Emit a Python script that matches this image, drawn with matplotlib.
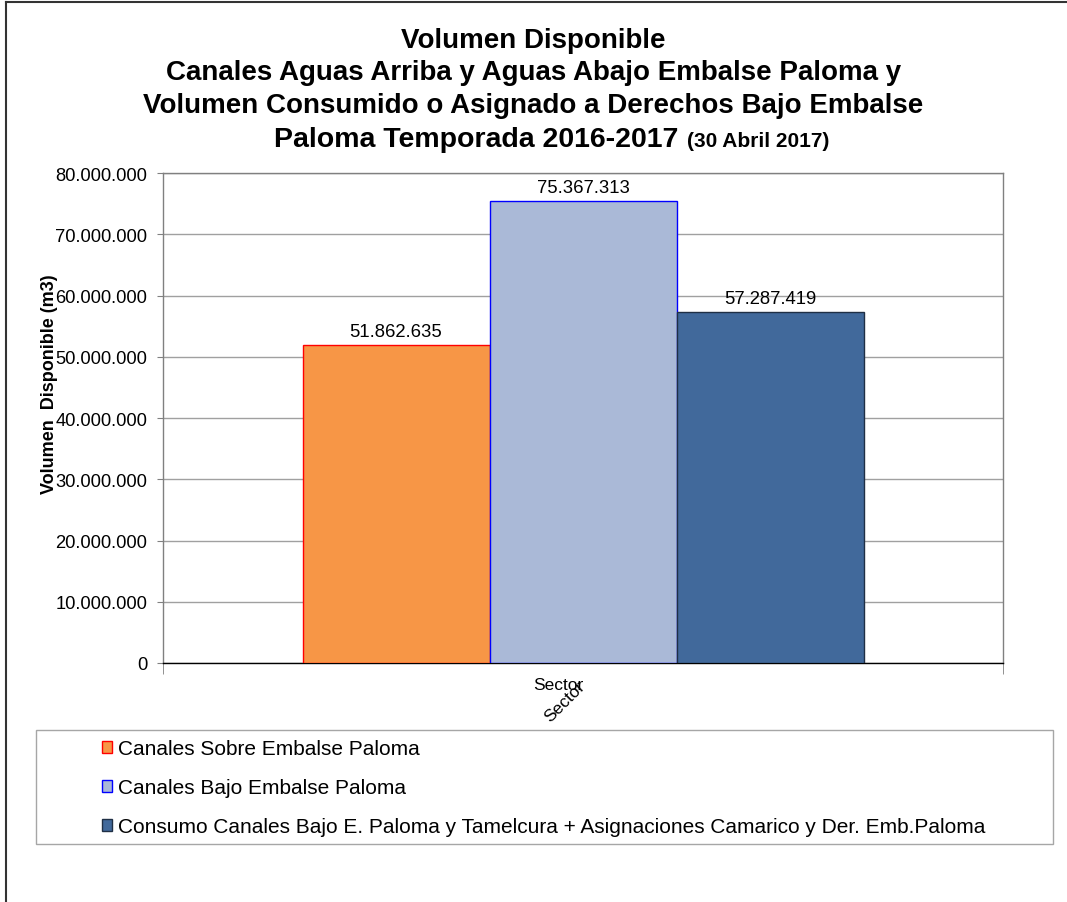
import matplotlib.pyplot as plt
from matplotlib.patches import Rectangle, Patch
from matplotlib.lines import Line2D
from matplotlib.ticker import FuncFormatter

plt.rcParams['font.family'] = ['Liberation Sans', 'DejaVu Sans']

# datos
categorias = ['Sector']
series = ['Canales Sobre Embalse Paloma',
          'Canales Bajo Embalse Paloma',
          'Consumo Canales Bajo E. Paloma y Tamelcura + Asignaciones Camarico y Der. Emb.Paloma']
valores = [51862635, 75367313, 57287419]
colores = ['#F79646', '#AAB9D7', '#41699B']
bordes = ['#FF0000', '#0000FF', '#1F2F45']

W, H = 1067, 903


def miles(v, pos=None):
    return f"{v:,.0f}".replace(",", ".")


fig = plt.figure(figsize=(W / 100, H / 100), dpi=100)
ax = fig.add_axes([163 / W, 239 / H, 840 / W, 490 / H])

ancho = 187 / 840
for i, (nombre, val) in enumerate(zip(series, valores)):
    x = (i - 1) * ancho
    ax.bar(x, val, width=ancho, color=colores[i], edgecolor=bordes[i], linewidth=1, zorder=3)
    ax.text(x, val + 900000, miles(val), ha='center', va='bottom', fontsize=13.3)

ax.set_xlim(-0.5, 0.5)
ax.set_ylim(0, 80000000)
ax.set_yticks(range(0, 80000001, 10000000))
ax.yaxis.set_major_formatter(FuncFormatter(miles))
ax.tick_params(axis='y', labelsize=13.2, length=4.5, pad=7, color='#808080')
ax.yaxis.grid(True, color='#A0A0A0', linewidth=1, zorder=0)
ax.set_ylabel('Volumen  Disponible (m3)', fontsize=13, fontweight='bold')
ax.yaxis.set_label_coords(-0.125, 0.571)

ax.set_xticks([])
ax.set_xticks([-0.5, 0.5], minor=True)
ax.tick_params(axis='x', which='minor', length=8, color='#808080', labelbottom=False)
# rotulos de la categoria (uno horizontal y otro girado, como en el original)
fig.text(558 / W, 1 - 686 / H, categorias[0], ha='center', va='center', fontsize=12.5)
fig.text(565 / W, 1 - 702 / H, categorias[0], rotation=45, ha='center', va='center', fontsize=12.5)

for lado in ['top', 'right', 'left']:
    ax.spines[lado].set_color('#808080')
    ax.spines[lado].set_linewidth(1)
ax.spines['bottom'].set_color('black')
ax.spines['bottom'].set_linewidth(1)

# titulo
lineas = ['Volumen Disponible',
          'Canales Aguas Arriba y Aguas Abajo Embalse Paloma y',
          'Volumen Consumido o Asignado a Derechos Bajo Embalse']
bases = [48, 80, 113]
for t, y in zip(lineas, bases):
    fig.text(0.5, 1 - y / H, t, ha='center', va='baseline', fontsize=20, fontweight='bold')
fig.text(678 / W, 1 - 147 / H, 'Paloma Temporada 2016-2017', ha='right', va='baseline',
         fontsize=20.5, fontweight='bold')
fig.text(687 / W, 1 - 147 / H, '(30 Abril 2017)', ha='left', va='baseline',
         fontsize=15, fontweight='bold')

# leyenda
fig.add_artist(Rectangle((36 / W, 1 - 845 / H), (1053 - 36) / W, (845 - 731) / H,
                         transform=fig.transFigure, fill=False, edgecolor='#A6A6A6', linewidth=1))
handles = [Patch(facecolor=colores[i], edgecolor=bordes[i], linewidth=1) for i in range(3)]
fig.legend(handles, series, loc='upper left', bbox_to_anchor=(102 / W, 1 - 740 / H),
           frameon=False, fontsize=15, handlelength=0.5, handleheight=0.5,
           handletextpad=0.25, labelspacing=0.96, borderaxespad=0, borderpad=0)

# marco exterior
fig.add_artist(Line2D([5.5 / W, 5.5 / W], [0, 1 - 3 / H], transform=fig.transFigure,
                      color='#333333', linewidth=1.5))
fig.add_artist(Line2D([5.5 / W, 1], [1 - 3 / H, 1 - 3 / H], transform=fig.transFigure,
                      color='#333333', linewidth=1.5))

fig.savefig('out.png', dpi=100)
